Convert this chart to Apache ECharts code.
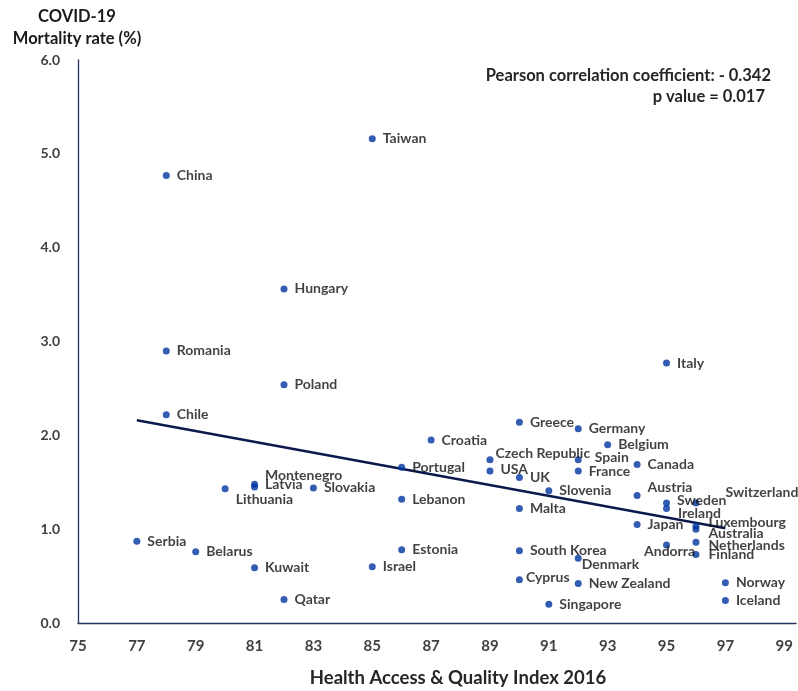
<!DOCTYPE html>
<html>
<head>
<meta charset="utf-8">
<script src="https://cdn.jsdelivr.net/npm/echarts@6/dist/echarts.min.js"></script>
<style>
html,body{margin:0;padding:0;background:#fff;}
#chart{width:798px;height:691px;}
</style>
</head>
<body>
<div id="chart"></div>
<script>
// ---- Data ----
const countries = ["Taiwan","China","Hungary","Romania","Poland","Chile","Italy","Greece","Germany","Belgium","Croatia","Czech Republic","USA","Spain","France","Canada","UK","Portugal","Slovenia","Austria","Sweden","Ireland","Switzerland","Luxembourg","Australia","Japan","Andorra","Netherlands","Finland","Malta","South Korea","Denmark","Cyprus","New Zealand","Singapore","Norway","Iceland","Lithuania","Montenegro","Latvia","Slovakia","Lebanon","Serbia","Belarus","Kuwait","Qatar","Estonia","Israel"];
const haqIndex = [85,78,82,78,82,78,95,90,92,93,87,89,89,92,92,94,90,86,91,94,95,95,96,96,96,94,95,96,96,90,90,92,90,92,91,97,97,80,81,81,83,86,77,79,81,82,86,85];
const mortality = [5.16,4.77,3.56,2.90,2.54,2.22,2.77,2.14,2.07,1.90,1.95,1.74,1.62,1.74,1.62,1.69,1.55,1.66,1.41,1.36,1.28,1.22,1.28,1.03,1.00,1.05,0.83,0.86,0.73,1.22,0.77,0.69,0.46,0.42,0.20,0.43,0.24,1.43,1.48,1.45,1.44,1.32,0.87,0.76,0.59,0.25,0.78,0.60];
const trendX = [77, 97];
const trendY = [2.16, 1.01];
const xTickValues = [75,77,79,81,83,85,87,89,91,93,95,97,99];
const yTickValues = [0,1,2,3,4,5,6];
const xTitle = "Health Access & Quality Index 2016";
const yTitle = ["COVID-19", "Mortality rate (%)"];
const annotation = ["Pearson correlation coefficient: - 0.342", "p value = 0.017"];

// ---- Label placement tweaks (style only) ----
const labelOffsets = {
  "Montenegro":[0,-9], "Latvia":[0,-2], "Lithuania":[0,11],
  "Czech Republic":[-5,-6], "Spain":[6,-2], "Sweden":[0,-2], "Ireland":[1,5],
  "Switzerland":[19,-10], "Luxembourg":[2,-4], "Australia":[2,4], "Netherlands":[2,3],
  "Finland":[2,0], "Andorra":[-33,6], "Denmark":[-7,6], "Cyprus":[-4,-2], "Austria":[0,-8],
  "USA":[0,-2]
};

const FONT = 'Lato, "Open Sans", sans-serif';
const scatterData = countries.map((c,i)=>{
  const item = {name:c, value:[haqIndex[i], mortality[i]]};
  if (labelOffsets[c]) item.label = {offset: labelOffsets[c]};
  return item;
});

const chart = echarts.init(document.getElementById('chart'), null, {renderer:'canvas'});
chart.setOption({
  animation:false,
  backgroundColor:'#ffffff',
  grid:{left:78, top:60, right:2, bottom:68, containLabel:false, outerBoundsMode:'none'},
  xAxis:{
    type:'value', min:75, max:99.4, interval:1,
    axisLine:{show:true, onZero:false, lineStyle:{color:'#27325e', width:1.3}},
    axisTick:{show:false}, splitLine:{show:false},
    axisLabel:{
      margin:16, color:'#404040', fontFamily:FONT, fontWeight:'bold', fontSize:15,
      formatter:v=> xTickValues.indexOf(v) >= 0 ? String(v) : '',
      showMaxLabel:true
    }
  },
  yAxis:{
    type:'value', min:0, max:6, interval:1,
    axisLine:{show:true, lineStyle:{color:'#27325e', width:1.3}},
    axisTick:{show:false}, splitLine:{show:false},
    axisLabel:{margin:18, color:'#404040', fontFamily:FONT, fontWeight:'bold', fontSize:14,
      formatter:v=> yTickValues.indexOf(v) >= 0 ? v.toFixed(1) : ''}
  },
  graphic:[
    {type:'text', x:77, y:17, style:{text:yTitle[0], fill:'#1a1a1a', font:'bold 16.5px '+FONT, align:'center', verticalAlign:'middle'}},
    {type:'text', x:77, y:39, style:{text:yTitle[1], fill:'#1a1a1a', font:'bold 16.5px '+FONT, align:'center', verticalAlign:'middle'}},
    {type:'text', x:458, y:678, style:{text:xTitle, fill:'#262626', font:'bold 18.5px '+FONT, align:'center', verticalAlign:'middle'}},
    {type:'text', x:771, y:76, style:{text:annotation[0], fill:'#262626', font:'bold 16.5px '+FONT, align:'right', verticalAlign:'middle'}},
    {type:'text', x:765, y:97, style:{text:annotation[1], fill:'#262626', font:'bold 16.5px '+FONT, align:'right', verticalAlign:'middle'}}
  ],
  series:[
    {
      type:'line', data:trendX.map((x,i)=>[x,trendY[i]]), symbol:'none',
      lineStyle:{color:'#0b1a4a', width:2.5}, z:1, silent:true
    },
    {
      type:'scatter', data:scatterData, symbol:'circle', symbolSize:7,
      itemStyle:{color:'#0033a0'}, z:3,
      label:{show:true, position:'right', distance:7, formatter:'{b}',
        color:'#111111', fontFamily:FONT, fontWeight:'bold', fontSize:14}
    }
  ]
});
</script>
</body>
</html>
